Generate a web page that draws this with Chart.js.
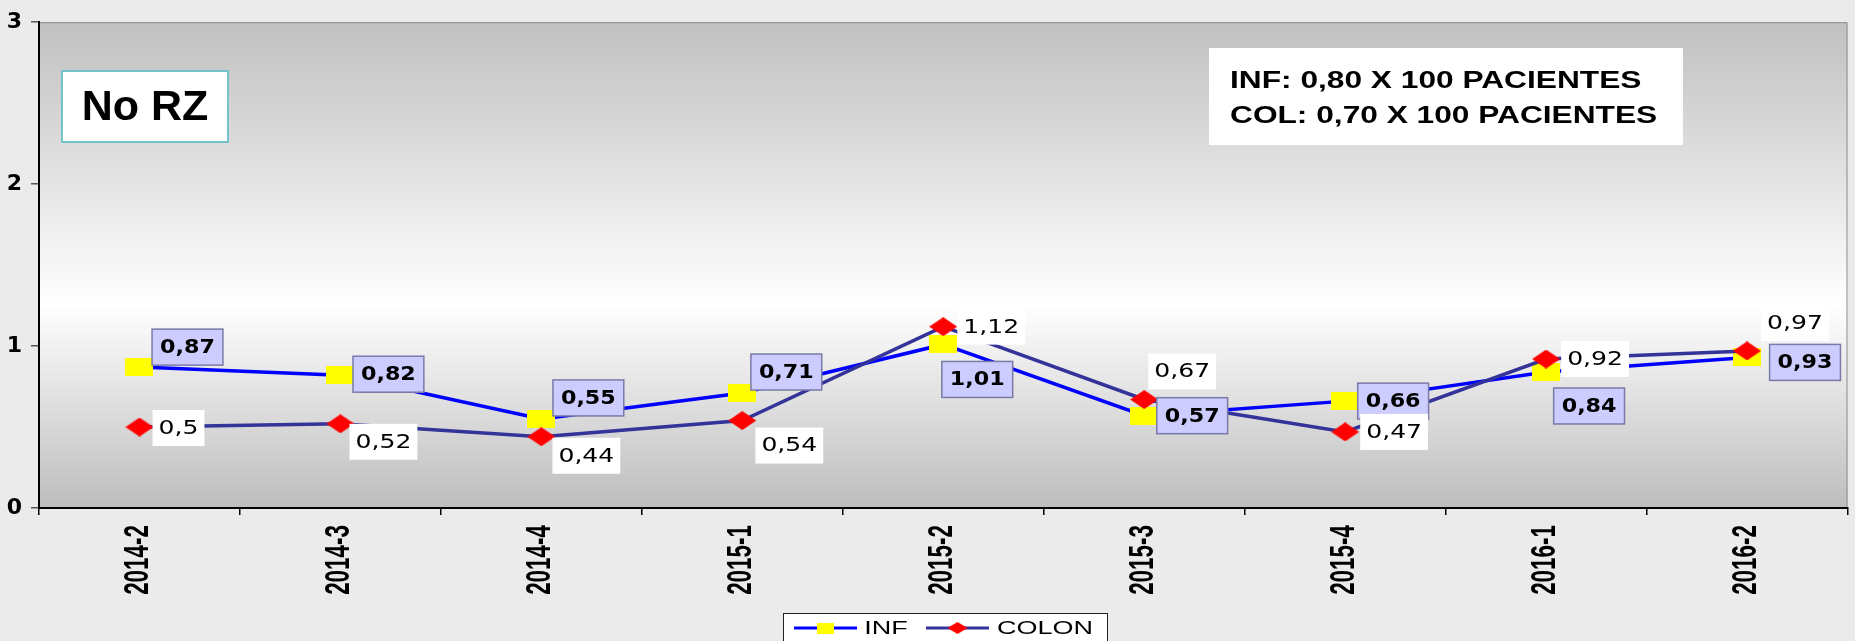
<!DOCTYPE html>
<html>
<head>
<meta charset="utf-8">
<script src="https://cdn.jsdelivr.net/npm/chart.js@4.4.1/dist/chart.umd.min.js"></script>
<style>
    body { margin: 0; background: #ebebeb; }
    #wrap { width: 1855px; height: 641px; }
</style>
</head>
<body>
<div id="wrap"><canvas id="chart" width="1855" height="641"></canvas></div>
<script>
// values
const periods = ["2014-2", "2014-3", "2014-4", "2015-1", "2015-2", "2015-3", "2015-4", "2016-1", "2016-2"];
const infValues = [0.87, 0.82, 0.55, 0.71, 1.01, 0.57, 0.66, 0.84, 0.93];
const colonValues = [0.5, 0.52, 0.44, 0.54, 1.12, 0.67, 0.47, 0.92, 0.97];
const yTicks = [0, 1, 2, 3];
const boxTitle = "No RZ";
const noteLines = ["INF: 0,80 X 100 PACIENTES", "COL: 0,70 X 100 PACIENTES"];

// where each data label sits relative to its point (px)
const infLabelOffsets = [[48, -20], [48, -1], [47, -21], [44, -21], [34, 35], [48, 0], [48, 0], [43, 34], [58, 5]];
const colonLabelOffsets = [[39, 1], [43, 18], [45, 19], [47, 25], [48, 0], [38, -28], [49, 0], [49, 0], [48, -28]];

function fmt(v) { return String(v).replace('.', ','); }

// marker images (the original is stretched sideways)
function makeMarker(kind, w, h) {
    const c = document.createElement('canvas');
    c.width = w; c.height = h;
    const g = c.getContext('2d');
    if (kind === 'rect') {
        g.fillStyle = '#ffff00';
        g.fillRect(0, 0, w, h);
    } else {
        g.fillStyle = '#ff0000';
        g.beginPath();
        g.moveTo(w / 2, 0); g.lineTo(w, h / 2); g.lineTo(w / 2, h); g.lineTo(0, h / 2);
        g.closePath();
        g.fill();
    }
    return c;
}
const infMarker = makeMarker('rect', 28, 18);
const colonMarker = makeMarker('diamond', 28, 19);

// draws text stretched by sx (horizontal) / sy (vertical) at (x, y)
function stretchedText(ctx, text, x, y, font, sx, color, align, sy) {
    ctx.save();
    ctx.translate(x, y);
    ctx.scale(sx, sy || 1);
    ctx.font = font;
    ctx.fillStyle = color;
    ctx.textAlign = align || 'center';
    ctx.textBaseline = 'middle';
    ctx.fillText(text, 0, 1);
    ctx.restore();
}

const backgroundPlugin = {
    id: 'background',
    beforeDraw(chart) {
        const { ctx, chartArea: a } = chart;
        ctx.save();
        ctx.fillStyle = '#ebebeb';
        ctx.fillRect(0, 0, chart.width, chart.height);
        const grad = ctx.createLinearGradient(0, a.top, 0, a.bottom);
        grad.addColorStop(0, '#c0c0c0');
        grad.addColorStop(0.58, '#ffffff');
        grad.addColorStop(1, '#bdbdbd');
        ctx.fillStyle = grad;
        ctx.fillRect(a.left, a.top, a.right - a.left, a.bottom - a.top);
        // thin grey frame on top and right
        ctx.strokeStyle = '#8c8c8c';
        ctx.lineWidth = 1;
        ctx.beginPath();
        ctx.moveTo(a.left, a.top + 0.5);
        ctx.lineTo(a.right - 0.5, a.top + 0.5);
        ctx.lineTo(a.right - 0.5, a.bottom);
        ctx.stroke();
        ctx.restore();
    }
};

const labelsPlugin = {
    id: 'pointLabels',
    afterDatasetsDraw(chart) {
        const ctx = chart.ctx;
        const styles = [
            { offsets: infLabelOffsets, font: 'bold 19px "DejaVu Sans"', sx: 1.17, fill: '#ccccff', stroke: '#7a7aa8', pad: 8 },
            { offsets: colonLabelOffsets, font: '19px "DejaVu Sans"', sx: 1.32, fill: '#ffffff', stroke: null, pad: 6 }
        ];
        chart.data.datasets.forEach((ds, di) => {
            const st = styles[di];
            const meta = chart.getDatasetMeta(di);
            meta.data.forEach((pt, i) => {
                const text = fmt(ds.data[i]);
                ctx.save();
                ctx.font = st.font;
                const w = ctx.measureText(text).width * st.sx + st.pad * 2;
                const h = 36;
                const cx = pt.x + st.offsets[i][0];
                const cy = pt.y + st.offsets[i][1];
                ctx.fillStyle = st.fill;
                ctx.fillRect(cx - w / 2, cy - h / 2, w, h);
                if (st.stroke) {
                    ctx.strokeStyle = st.stroke;
                    ctx.lineWidth = 1.5;
                    ctx.strokeRect(cx - w / 2, cy - h / 2, w, h);
                }
                ctx.restore();
                stretchedText(ctx, text, cx, cy, st.font, st.sx, '#000');
            });
        });
    },
    afterDraw(chart) {
        const ctx = chart.ctx;
        const xScale = chart.scales.x;

        // category labels, rotated and squeezed like the original
        chart.data.labels.forEach((lab, i) => {
            const x = xScale.getPixelForValue(i) - 2;
            ctx.save();
            ctx.translate(x, 560);
            ctx.rotate(-Math.PI / 2);
            ctx.scale(0.64, 1);
            ctx.font = 'bold 35px "Liberation Sans", Arial, sans-serif';
            ctx.fillStyle = '#000';
            ctx.textAlign = 'center';
            ctx.textBaseline = 'middle';
            ctx.fillText(lab, 0, 1);
            ctx.restore();
        });

        ctx.save();
        // "No RZ" box
        ctx.fillStyle = '#fff';
        ctx.fillRect(62, 71, 166, 71);
        ctx.strokeStyle = '#74c2ca';
        ctx.lineWidth = 2;
        ctx.strokeRect(62, 71, 166, 71);
        ctx.fillStyle = '#000';
        ctx.font = 'bold 43px "Liberation Sans", Arial, sans-serif';
        ctx.textAlign = 'center';
        ctx.textBaseline = 'middle';
        ctx.fillText(boxTitle, 145, 108);

        // note box
        ctx.fillStyle = '#fff';
        ctx.fillRect(1209, 48, 474, 97);
        const noteFont = 'bold 24px "Liberation Sans", Arial, sans-serif';
        stretchedText(ctx, noteLines[0], 1230, 80, noteFont, 1.32, '#000', 'left');
        stretchedText(ctx, noteLines[1], 1230, 115, noteFont, 1.32, '#000', 'left');

        // legend
        ctx.fillStyle = '#fff';
        ctx.fillRect(783, 613, 324, 40);
        ctx.strokeStyle = '#222';
        ctx.lineWidth = 1;
        ctx.strokeRect(783.5, 613.5, 324, 40);
        const items = [
            { x: 794, color: '#0000ff', marker: 'rect', text: chart.data.datasets[0].label, tx: 886 },
            { x: 926, color: '#333399', marker: 'diamond', text: chart.data.datasets[1].label, tx: 1045 }
        ];
        items.forEach(it => {
            ctx.strokeStyle = it.color;
            ctx.lineWidth = 3;
            ctx.beginPath();
            ctx.moveTo(it.x, 628);
            ctx.lineTo(it.x + 63, 628);
            ctx.stroke();
            const m = makeMarker(it.marker, it.marker === 'rect' ? 17 : 20, it.marker === 'rect' ? 11 : 12);
            ctx.drawImage(m, it.x + 31.5 - m.width / 2, 628 - m.height / 2);
            stretchedText(ctx, it.text, it.tx, 628, '18px "Liberation Sans", Arial, sans-serif', 1.5, '#000');
        });
        ctx.restore();
    }
};

new Chart(document.getElementById('chart'), {
    type: 'line',
    data: {
        labels: periods,
        datasets: [
            {
                label: 'INF',
                data: infValues,
                borderColor: '#0000ff',
                borderWidth: 3.5,
                pointStyle: infMarker,
                order: 2,
            },
            {
                label: 'COLON',
                data: colonValues,
                borderColor: '#333399',
                borderWidth: 3.5,
                pointStyle: colonMarker,
                order: 1,
            }
        ]
    },
    options: {
        responsive: false,
        animation: false,
        events: [],
        layout: { padding: { top: 16, right: 0, left: 0, bottom: 0 } },
        elements: { line: { tension: 0, fill: false } },
        plugins: {
            legend: { display: false },
            tooltip: { enabled: false }
        },
        scales: {
            x: {
                offset: true,
                grid: { offset: true, drawOnChartArea: false, tickLength: 7, color: '#000', lineWidth: 1.5 },
                border: { color: '#000', width: 2 },
                ticks: { display: false },
                afterFit(scale) { scale.height = 133; }
            },
            y: {
                min: 0,
                max: 3,
                afterBuildTicks(scale) { scale.ticks = yTicks.map(v => ({ value: v })); },
                grid: { drawOnChartArea: false, tickLength: 8, color: '#555', lineWidth: 1.5 },
                border: { color: '#000', width: 2 },
                ticks: {
                    padding: 9,
                    color: '#000',
                    font: { family: 'DejaVu Sans, sans-serif', size: 22, weight: 'bold' }
                },
                afterFit(scale) { scale.width = 39; }
            }
        }
    },
    plugins: [backgroundPlugin, labelsPlugin]
});
</script>
</body>
</html>
